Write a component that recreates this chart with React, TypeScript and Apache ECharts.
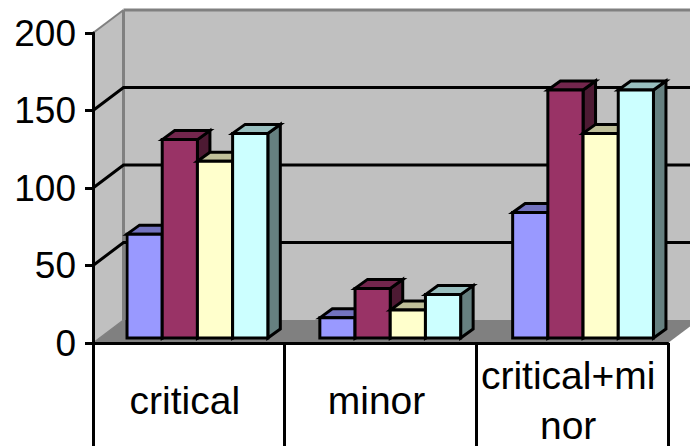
import React, { useEffect, useRef } from "react";
import * as echarts from "echarts";

const categories = ["critical", "minor", "critical+mi\nnor"];
const blueValues = [67, 13, 81];
const redValues = [128, 32, 160];
const yellowValues = [114, 18, 132];
const cyanValues = [132, 28, 160];
const gridValues = [50, 100, 150];

const seriesValues = [blueValues, redValues, yellowValues, cyanValues];
const barColors = [
  { front: "#9999ff", top: "#7373bf", side: "#4d4d80" },
  { front: "#993366", top: "#73264d", side: "#4d1a33" },
  { front: "#ffffcc", top: "#bfbf99", side: "#808066" },
  { front: "#ccffff", top: "#99bfbf", side: "#668080" },
];

const FONT = "'Liberation Sans', Arial, sans-serif";
const WALL_DX = 30.5;
const WALL_DY = -23;
const BAR_DX = 12.5;
const BAR_DY = -9;
const EDGE = 3;
const BAR_WIDTH = 35.2;
const FAR_RIGHT = 720;

function wallsRenderItem(_params: any, api: any) {
  const band = api.size([1, 0])[0];
  const center = api.coord([0, 0]);
  const x0 = center[0] - band / 2;
  const x1 = x0 + band * categories.length;
  const y0 = center[1];
  const y200 = api.coord([0, 200])[1];
  const bx = x0 + WALL_DX;
  const gray = "#808080";
  const children: any[] = [
    // back wall
    { type: "polygon", shape: { points: [[bx, y200 + WALL_DY], [FAR_RIGHT, y200 + WALL_DY], [FAR_RIGHT, y0 + WALL_DY], [bx, y0 + WALL_DY]] }, style: { fill: "#c0c0c0" } },
    // left wall
    { type: "polygon", shape: { points: [[x0, y200], [bx, y200 + WALL_DY], [bx, y0 + WALL_DY], [x0, y0]] }, style: { fill: "#c0c0c0" } },
    // floor
    { type: "polygon", shape: { points: [[x0, y0], [bx, y0 + WALL_DY], [x1 + WALL_DX, y0 + WALL_DY], [x1, y0]] }, style: { fill: gray } },
    // wall edges
    { type: "line", shape: { x1: bx, y1: y200 + WALL_DY, x2: FAR_RIGHT, y2: y200 + WALL_DY }, style: { stroke: gray, lineWidth: 3 } },
    { type: "line", shape: { x1: bx, y1: y200 + WALL_DY, x2: bx, y2: y0 + WALL_DY }, style: { stroke: gray, lineWidth: 3 } },
    { type: "line", shape: { x1: x0, y1: y200, x2: bx, y2: y200 + WALL_DY }, style: { stroke: gray, lineWidth: 2 } },
    { type: "line", shape: { x1: x0, y1: y0, x2: bx, y2: y0 + WALL_DY }, style: { stroke: gray, lineWidth: 1.5 } },
  ];
  gridValues.forEach((v) => {
    const y = api.coord([0, v])[1];
    children.push({
      type: "polyline",
      shape: { points: [[x0, y], [bx, y + WALL_DY], [FAR_RIGHT, y + WALL_DY]] },
      style: { stroke: "#000", lineWidth: EDGE, fill: "none" },
    });
  });
  return { type: "group", children };
}

function barRenderItem(seriesIndex: number) {
  return (_params: any, api: any) => {
    const cat = api.value(0);
    const val = api.value(1);
    const band = api.size([1, 0])[0];
    const topPt = api.coord([cat, val]);
    const basePt = api.coord([cat, 0]);
    const x = topPt[0] - band * 0.3225 + cat * 1.15 + seriesIndex * BAR_WIDTH;
    const top = topPt[1] - 5;
    const base = basePt[1] - 5;
    const r = x + BAR_WIDTH;
    const c = barColors[seriesIndex];
    const line = { stroke: "#000", lineWidth: EDGE, lineJoin: "miter" };
    return {
      type: "group",
      children: [
        { type: "polygon", shape: { points: [[r, top], [r + BAR_DX, top + BAR_DY], [r + BAR_DX, base + BAR_DY], [r, base]] }, style: { fill: c.side, ...line } },
        { type: "polygon", shape: { points: [[x, top], [x + BAR_DX, top + BAR_DY], [r + BAR_DX, top + BAR_DY], [r, top]] }, style: { fill: c.top, ...line } },
        { type: "rect", shape: { x, y: top, width: BAR_WIDTH, height: base - top }, style: { fill: c.front, ...line } },
      ],
    };
  };
}

export default function App() {
  const ref = useRef<HTMLDivElement>(null);
  useEffect(() => {
    document.body.style.margin = "0";
    const chart = echarts.init(ref.current!, null, { renderer: "svg" });
    chart.setOption({
      animation: false,
      backgroundColor: "#ffffff",
      grid: { left: 93, right: 22, top: 33, bottom: 103, containLabel: false, outerBoundsMode: "none" },
      xAxis: {
        type: "category",
        data: categories,
        boundaryGap: true,
        z: 10,
        axisLine: { show: true, lineStyle: { color: "#000", width: EDGE } },
        axisTick: { show: true, interval: 0, alignWithLabel: false, length: 110, lineStyle: { color: "#000", width: EDGE } },
        axisLabel: {
          interval: 0,
          color: "#000",
          fontFamily: FONT,
          fontSize: 39,
          lineHeight: 50,
          margin: 57,
          verticalAlign: "middle",
          align: "center",
          padding: [0, 8, 0, 0],
          hideOverlap: false,
        },
        splitLine: { show: false },
      },
      yAxis: {
        type: "value",
        min: 0,
        max: 200,
        interval: 50,
        z: 10,
        axisLine: { show: true, lineStyle: { color: "#000", width: EDGE } },
        axisTick: { show: true, length: 8, lineStyle: { color: "#000", width: EDGE } },
        axisLabel: { color: "#000", fontFamily: FONT, fontSize: 37, margin: 17 },
        splitLine: { show: false },
      },
      series: [
        { type: "custom", silent: true, clip: false, z: 1, renderItem: wallsRenderItem, data: [[0, 0]], encode: { x: 0, y: 1 } },
        ...seriesValues.map((vals, i) => ({
          type: "custom",
          silent: true,
          clip: false,
          z: 2 + i,
          renderItem: barRenderItem(i),
          data: vals.map((v, c) => [c, v]),
          encode: { x: 0, y: 1 },
        })),
      ],
    });
    return () => chart.dispose();
  }, []);
  return <div ref={ref} style={{ width: 690, height: 446 }} />;
}
